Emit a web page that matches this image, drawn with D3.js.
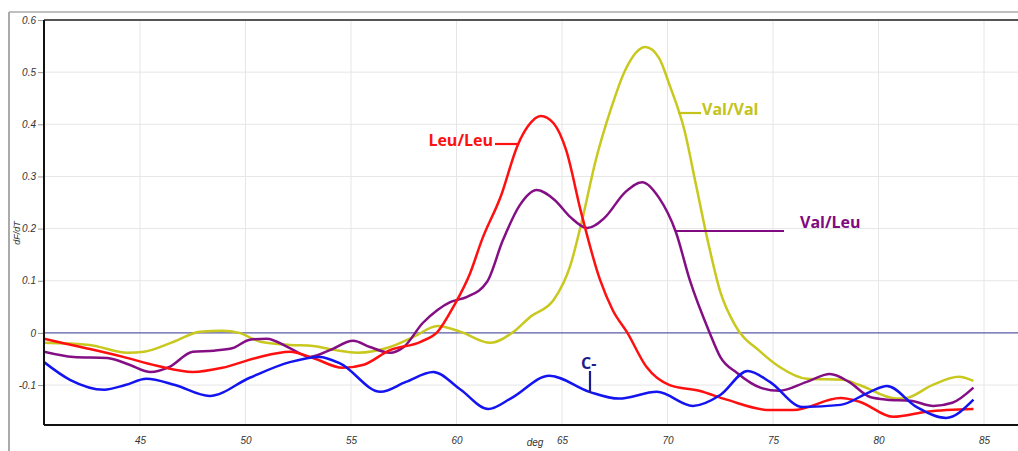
<!DOCTYPE html>
<html>
<head>
<meta charset="utf-8">
<script src="https://cdn.jsdelivr.net/npm/d3@7"></script>
<style>
  body { margin: 0; background: #fff; }
  svg { display: block; }
</style>
</head>
<body>
<div id="chart"></div>
<script>
// melt curve data: [deg, dF/dT]
const leuLeu = [
  [40.45, -0.011], [41.07, -0.017], [42.63, -0.031], [44.2, -0.046], [45.8, -0.063],
  [47.5, -0.075], [48.9, -0.067], [50.5, -0.048], [52.1, -0.036], [53.2, -0.048],
  [54.6, -0.067], [55.6, -0.061], [56.85, -0.033], [58.3, -0.017], [59.1, 0.002],
  [59.85, 0.05], [60.65, 0.115], [61.2, 0.178], [62.1, 0.262], [62.9, 0.36],
  [63.4, 0.397], [64.0, 0.416], [64.6, 0.402], [65.2, 0.35], [65.9, 0.232],
  [66.8, 0.102], [67.4, 0.044], [68.1, 0.0], [69.0, -0.065], [70.1, -0.1],
  [71.5, -0.111], [72.8, -0.128], [74.85, -0.148], [75.95, -0.148], [78.2, -0.125],
  [79.1, -0.132], [80.7, -0.161], [82.3, -0.151], [84.5, -0.146]
];

const valVal = [
  [40.45, -0.019], [42.6, -0.023], [44.4, -0.038], [45.2, -0.036], [46.6, -0.017],
  [47.85, 0.002], [48.9, 0.004], [49.7, 0.0], [50.7, -0.017], [52.1, -0.023],
  [53.2, -0.025], [54.25, -0.033], [55.3, -0.038], [56.85, -0.027], [57.95, -0.008],
  [59.1, 0.013], [60.2, 0.002], [61.6, -0.019], [62.7, 0.002], [63.5, 0.031],
  [64.6, 0.063], [65.4, 0.13], [65.95, 0.216], [66.6, 0.331], [67.3, 0.427],
  [68.0, 0.504], [68.95, 0.548], [69.6, 0.527], [70.1, 0.475], [70.8, 0.389],
  [71.35, 0.284], [71.95, 0.169], [72.5, 0.079], [73.2, 0.015], [74.4, -0.036],
  [75.3, -0.065], [76.6, -0.088], [78.3, -0.09], [79.1, -0.1], [80.85, -0.126],
  [81.3, -0.125], [82.55, -0.1], [83.8, -0.084], [84.5, -0.092]
];

const valLeu = [
  [40.45, -0.036], [41.85, -0.046], [43.45, -0.048], [44.5, -0.061], [45.5, -0.075],
  [46.4, -0.065], [47.5, -0.036], [48.5, -0.034], [49.4, -0.029], [50.2, -0.013],
  [51.0, -0.011], [52.1, -0.029], [53.05, -0.046], [54.0, -0.033], [55.1, -0.015],
  [55.9, -0.027], [56.85, -0.038], [57.5, -0.027], [58.4, 0.019], [59.1, 0.044],
  [59.7, 0.059], [60.5, 0.069], [61.45, 0.098], [62.2, 0.178], [63.0, 0.245],
  [63.8, 0.274], [64.65, 0.255], [65.4, 0.222], [66.2, 0.201], [67.0, 0.22],
  [68.0, 0.27], [68.8, 0.289], [69.6, 0.259], [70.4, 0.193], [71.05, 0.102],
  [72.0, 0.0], [72.5, -0.046], [73.3, -0.077], [74.4, -0.105], [75.3, -0.111],
  [76.6, -0.094], [77.7, -0.079], [78.6, -0.094], [79.6, -0.123], [80.4, -0.128],
  [81.5, -0.13], [82.6, -0.14], [83.5, -0.134], [84.5, -0.105]
];

const negCtrl = [
  [40.45, -0.056], [41.68, -0.09], [43.3, -0.109], [44.3, -0.1], [45.3, -0.088],
  [46.66, -0.1], [48.3, -0.121], [50.2, -0.086], [52.1, -0.056], [53.5, -0.046],
  [54.5, -0.059], [56.4, -0.113], [57.6, -0.094], [58.9, -0.075], [60.2, -0.109],
  [61.5, -0.146], [62.6, -0.125], [64.4, -0.082], [66.3, -0.113], [67.7, -0.126],
  [69.5, -0.113], [71.2, -0.14], [72.5, -0.119], [73.8, -0.073], [74.85, -0.094],
  [76.4, -0.142], [78.2, -0.138], [79.6, -0.113], [80.4, -0.102], [81.8, -0.142],
  [83.2, -0.163], [84.5, -0.128]
];

const xTicks = [45, 50, 55, 60, 65, 70, 75, 80, 85];
const yTicks = [-0.1, 0, 0.1, 0.2, 0.3, 0.4, 0.5, 0.6];

const W = 1018, H = 451;
const mLeft = 44, mRight = 1030, mTop = 20, mBottom = 425;

const svg = d3.select("#chart").append("svg")
  .attr("width", W)
  .attr("height", H)
  .style("font-family", "'Liberation Sans', Arial, sans-serif");

const x = d3.scaleLinear().domain([40.45, 40.45 + (mRight - mLeft) / 21.1]).range([mLeft, mRight]);
const y = d3.scaleLinear().domain([-0.1766, 0.6]).range([mBottom, mTop]);

// outer frame
svg.append("line").attr("x1", 9).attr("x2", W).attr("y1", 12).attr("y2", 12)
  .attr("stroke", "#aaa").attr("stroke-width", 1.5);
svg.append("line").attr("x1", 9).attr("x2", 9).attr("y1", 12).attr("y2", H)
  .attr("stroke", "#aaa").attr("stroke-width", 2);

svg.append("defs").append("clipPath").attr("id", "plot")
  .append("rect").attr("x", mLeft).attr("y", mTop).attr("width", mRight - mLeft).attr("height", mBottom - mTop);

// grid
svg.append("g").selectAll("line").data(xTicks).join("line")
  .attr("x1", d => x(d)).attr("x2", d => x(d)).attr("y1", mTop).attr("y2", mBottom)
  .attr("stroke", "#e6e6e6");
svg.append("g").selectAll("line").data(yTicks.filter(d => d !== 0)).join("line")
  .attr("x1", mLeft).attr("x2", mRight).attr("y1", d => y(d)).attr("y2", d => y(d))
  .attr("stroke", "#e6e6e6");

// zero line
svg.append("line").attr("x1", mLeft).attr("x2", mRight).attr("y1", y(0)).attr("y2", y(0))
  .attr("stroke", "#5a5aa8").attr("stroke-width", 1.2);

// axes
const yAxis = svg.append("g")
  .attr("transform", `translate(${mLeft - 1},0)`)
  .call(d3.axisLeft(y).tickValues(yTicks).tickSize(5).tickFormat(d => String(+d.toFixed(1))));
yAxis.select(".domain").remove();
yAxis.selectAll("line").attr("stroke", "#999");
yAxis.selectAll("text")
  .attr("x", -7)
  .style("font-size", "10px").style("font-style", "italic").attr("fill", "#333");

const xAxis = svg.append("g")
  .attr("transform", `translate(0,${mBottom})`)
  .call(d3.axisBottom(x).tickValues(xTicks).tickSize(0));
xAxis.select(".domain").remove();
xAxis.selectAll("text")
  .attr("dy", "1.55em")
  .style("font-size", "10px").style("font-style", "italic").attr("fill", "#333");

svg.append("text")
  .attr("transform", `translate(20,233) rotate(-90)`)
  .attr("text-anchor", "middle")
  .style("font-size", "9px").style("font-style", "italic").attr("fill", "#333")
  .text("dF/dT");
svg.append("text")
  .attr("x", 535).attr("y", 446)
  .attr("text-anchor", "middle")
  .style("font-size", "10px").style("font-style", "italic").attr("fill", "#333")
  .text("deg");

// curves
const line = d3.line()
  .x(d => x(d[0]))
  .y(d => y(d[1]))
  .curve(d3.curveMonotoneX);

const series = [
  { data: valVal, color: "#c8c81e" },
  { data: valLeu, color: "#840f84" },
  { data: leuLeu, color: "#ff1010" },
  { data: negCtrl, color: "#1414f0" }
];

const curves = svg.append("g").attr("clip-path", "url(#plot)");
series.forEach(s => {
  curves.append("path")
    .datum(s.data)
    .attr("fill", "none")
    .attr("stroke", s.color)
    .attr("stroke-width", 2.5)
    .attr("stroke-linejoin", "round")
    .attr("d", line);
});

// plot border
svg.append("line").attr("x1", mLeft).attr("x2", W).attr("y1", mTop).attr("y2", mTop)
  .attr("stroke", "#555").attr("stroke-width", 2);
svg.append("line").attr("x1", mLeft).attr("x2", mLeft).attr("y1", mTop).attr("y2", mBottom)
  .attr("stroke", "#111").attr("stroke-width", 2);
svg.append("line").attr("x1", mLeft).attr("x2", W).attr("y1", mBottom).attr("y2", mBottom)
  .attr("stroke", "#111").attr("stroke-width", 2);

// annotations
const labelFont = "'Open Sans', 'Noto Sans', sans-serif";
function note(text, tx, ty, color, x1, y1, x2, y2, anchor) {
  svg.append("line").attr("x1", x1).attr("y1", y1).attr("x2", x2).attr("y2", y2)
    .attr("stroke", color).attr("stroke-width", 2.2);
  svg.append("text")
    .attr("x", tx).attr("y", ty)
    .attr("text-anchor", anchor || "start")
    .style("font-family", labelFont)
    .style("font-size", "16px").style("font-weight", "bold")
    .attr("fill", color)
    .text(text);
}
note("Leu/Leu", 493, 146, "#ff1010", 495, 144, 518, 144, "end");
note("Val/Val", 702, 115, "#c3c31a", 678, 113, 701, 113);
note("Val/Leu", 800, 228, "#800a80", 675, 231, 784, 231);
note("C-", 581, 369, "#1c1c8c", 590, 371, 590, 393);
</script>
</body>
</html>
